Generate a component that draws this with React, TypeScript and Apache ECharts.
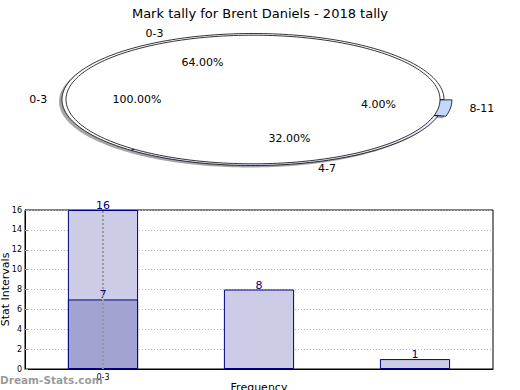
import React, { useEffect, useRef } from "react";
import * as echarts from "echarts";

const chartTitle = "Mark tally for Brent Daniels - 2018 tally";

// Pie (outer ring and inner pie)
const outerLabels = ["0-3", "4-7", "8-11"];
const outerCounts = [16, 8, 1];
const outerColors = ["#ffffff", "#e8eeff", "#c4d8fc"];
const outerExplode = [0, 0, 8];
const innerLabels = ["0-3"];
const innerCounts = [7];
const innerColors = ["#ffffff"];

// Bars
const barCategories = ["0-3", "4-7", "8-11"];
const xTickLabels = ["0-3", "", ""];
const barTotals = [16, 8, 1];
const barSubset: (number | string)[] = [7, "-", "-"];

const FONT = "DejaVu Sans";
const CX = 253;
const CY = 99.5;
const OUTER_RX = 191;
const OUTER_RY = 66;
const INNER_RX = 187;
const INNER_RY = 64.3;

function sum(a: number[]) {
  return a.reduce((s, v) => s + v, 0);
}

function wedge(cx: number, cy: number, rx: number, ry: number, a0: number, a1: number, full: boolean) {
  const pts: number[][] = [];
  if (!full) pts.push([cx, cy]);
  const n = Math.max(6, Math.ceil(((a1 - a0) / (2 * Math.PI)) * 240));
  for (let k = 0; k <= n; k++) {
    const a = a0 + ((a1 - a0) * k) / n;
    pts.push([cx + rx * Math.cos(a), cy - ry * Math.sin(a)]);
  }
  return pts;
}

function shadowColor(hex: string) {
  const r = parseInt(hex.slice(1, 3), 16) * 0.3;
  const g = parseInt(hex.slice(3, 5), 16) * 0.3;
  const b = parseInt(hex.slice(5, 7), 16) * 0.3;
  return `rgba(${Math.round(r)},${Math.round(g)},${Math.round(b)},0.5)`;
}

function renderPie(params: any, api: any) {
  const ring = api.value(0);
  const idx = api.value(1);
  const count = api.value(2);
  const counts = ring === 0 ? outerCounts : innerCounts;
  const labels = ring === 0 ? outerLabels : innerLabels;
  const colors = ring === 0 ? outerColors : innerColors;
  const rx = ring === 0 ? OUTER_RX : INNER_RX;
  const ry = ring === 0 ? OUTER_RY : INNER_RY;
  const total = sum(counts);
  let before = 0;
  for (let i = 0; i < idx; i++) before += counts[i];
  const a0 = (before / total) * Math.PI * 2;
  const a1 = ((before + count) / total) * Math.PI * 2;
  const mid = (a0 + a1) / 2;
  const full = count === total;
  const ex = ring === 0 ? outerExplode[idx] : 0;
  const cx = CX + ex * Math.cos(mid);
  const cy = CY - ex * Math.sin(mid) * (ry / rx);
  const pts = wedge(cx, cy, rx, ry, a0, a1, full);
  const children: any[] = [];
  if (ring === 0) {
    children.push({
      type: "polygon",
      z2: 0,
      shape: { points: pts.map((p) => [p[0] - 3, p[1] + 2]) },
      style: { fill: shadowColor(colors[idx]), stroke: "none" },
    });
  }
  children.push({
    type: "polygon",
    z2: ring === 0 ? 1 : 2,
    shape: { points: pts },
    style: { fill: colors[idx], stroke: "#000", lineWidth: 0.8 },
  });
  const lx = cx + 1.1 * rx * Math.cos(mid);
  const ly = cy - 1.1 * ry * Math.sin(mid);
  children.push({
    type: "text",
    z2: 5,
    style: {
      x: lx,
      y: ly,
      text: labels[idx],
      align: Math.cos(mid) > 0 ? "left" : "right",
      verticalAlign: "middle",
      fontFamily: FONT,
      fontSize: 11,
      fill: "#000",
    },
  });
  const px = cx + 0.62 * rx * Math.cos(mid);
  const py = cy - 0.62 * ry * Math.sin(mid);
  children.push({
    type: "text",
    z2: 5,
    style: {
      x: px,
      y: py,
      text: ((count / total) * 100).toFixed(2) + "%",
      align: "center",
      verticalAlign: "middle",
      fontFamily: FONT,
      fontSize: 11,
      fill: "#000",
    },
  });
  return { type: "group", children };
}

export default function App() {
  const ref = useRef<HTMLDivElement>(null);
  useEffect(() => {
    document.body.style.margin = "0";
    if (!ref.current) return;
    const chart = echarts.init(ref.current, null, { renderer: "svg" });
    const pieData: any[] = [];
    outerCounts.forEach((c, i) => pieData.push({ name: outerLabels[i], value: [0, i, c] }));
    innerCounts.forEach((c, i) => pieData.push({ name: innerLabels[i], value: [1, i, c] }));
    const labelStyle = {
      show: true,
      position: "top",
      distance: -1,
      color: "#000080",
      fontSize: 11,
      fontFamily: FONT,
    };
    chart.setOption({
      animation: false,
      backgroundColor: "#fff",
      textStyle: { fontFamily: FONT },
      title: {
        text: chartTitle,
        left: "center",
        top: 2,
        textStyle: { fontSize: 13, fontWeight: "normal", color: "#000", fontFamily: FONT },
      },
      graphic: [
        {
          type: "text",
          left: 0,
          top: 374,
          z: 100,
          style: {
            text: "Dream-Stats.com",
            fontSize: 10.5,
            fontWeight: "bold",
            fontFamily: FONT,
            fill: "rgba(120,120,120,0.75)",
          },
        },
      ],
      grid: {
        left: 25,
        right: 27,
        top: 210,
        bottom: 21,
        show: true,
        borderColor: "#000",
        borderWidth: 1,
        containLabel: false,
        outerBoundsMode: "none",
      },
      xAxis: {
        type: "category",
        data: barCategories,
        name: "Frequency",
        nameLocation: "middle",
        nameGap: 13,
        nameMoveOverlap: false,
        nameTextStyle: { fontSize: 11, color: "#000", fontFamily: FONT },
        axisLine: { lineStyle: { color: "#000" } },
        axisTick: { show: false },
        axisLabel: {
          formatter: (_v: string, i: number) => xTickLabels[i],
          fontSize: 8,
          color: "#000",
          margin: 4,
          fontFamily: FONT,
        },
        splitLine: { show: false },
      },
      yAxis: {
        type: "value",
        min: 0,
        max: 16,
        interval: 2,
        name: "Stat Intervals",
        nameLocation: "middle",
        nameGap: 14,
        nameMoveOverlap: false,
        nameTextStyle: { fontSize: 11, color: "#000", fontFamily: FONT },
        axisLine: { show: true, lineStyle: { color: "#000" } },
        axisTick: { show: true, inside: true, length: 3, lineStyle: { color: "#999" } },
        axisLabel: { fontSize: 8, color: "#000", margin: 3, fontFamily: FONT },
        splitLine: { show: true, lineStyle: { color: "#bbb", type: [1, 2], width: 1 } },
      },
      series: [
        {
          type: "custom",
          coordinateSystem: "none",
          renderItem: renderPie,
          data: pieData,
          silent: true,
        },
        {
          type: "bar",
          data: barTotals,
          barWidth: "45%",
          itemStyle: { color: "#ccccE6", borderColor: "#000080", borderWidth: 1 },
          label: labelStyle,
          markLine: {
            silent: true,
            symbol: "none",
            label: { show: false },
            lineStyle: { color: "#999", type: [2, 2], width: 2 },
            data: [{ xAxis: barCategories[0] }],
          },
        },
        {
          type: "bar",
          data: barSubset,
          barWidth: "45%",
          barGap: "-100%",
          itemStyle: { color: "#a3a3d1", borderColor: "#000080", borderWidth: 1 },
          label: labelStyle,
        },
      ],
    });
    return () => chart.dispose();
  }, []);
  return <div ref={ref} style={{ width: 520, height: 390 }} />;
}
